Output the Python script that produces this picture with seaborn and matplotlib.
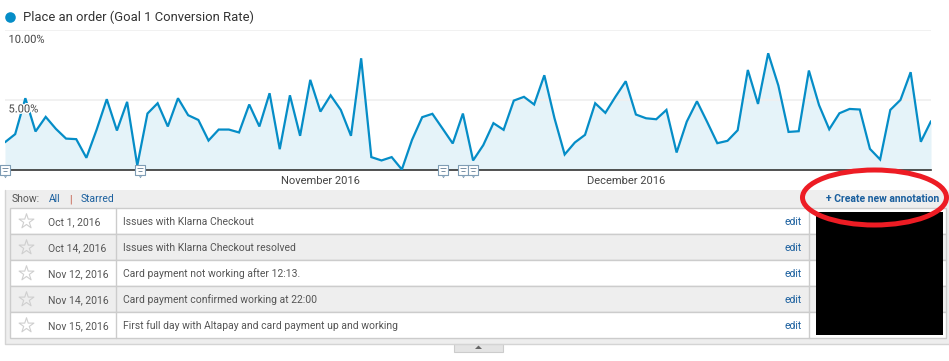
import matplotlib
matplotlib.use("Agg")
import matplotlib.pyplot as plt
import matplotlib.patheffects as pe
import matplotlib.transforms as mtrans
from matplotlib.patches import Rectangle, Ellipse, Polygon
import seaborn as sns
import pandas as pd

conversion_rate = [
    1.96, 2.54, 5.12, 2.73, 3.78, 2.92, 2.22, 2.18, 0.84, 2.85, 5.05, 2.80, 4.86, 0.29, 4.02, 4.76,
    3.09, 5.12, 3.90, 3.56, 2.08, 2.87, 2.87, 2.66, 4.67, 3.09, 5.48, 1.46, 5.33, 2.42, 6.44,
    4.16, 5.33, 4.28, 2.42, 7.99, 0.89, 0.65, 0.89, 0.0, 2.13, 3.76, 4.00, 2.94, 1.87, 4.02, 0.65,
    1.75, 3.33, 2.85, 4.95, 5.22, 4.67, 6.77, 3.68, 1.08, 1.94, 2.49, 4.76, 4.07, 5.24, 6.34,
    3.95, 3.68, 3.61, 4.28, 1.22, 3.44, 4.90, 3.42, 1.89, 2.06, 2.82, 7.15, 4.71, 8.35, 6.03,
    2.70, 2.75, 7.11, 4.62, 2.89, 4.04, 4.35, 4.31, 1.48, 0.72, 4.28, 5.00, 6.99, 1.99, 3.47,
]
dates = pd.date_range("2016-10-01", periods=len(conversion_rate), freq="D")
bubble_dates = pd.to_datetime(["2016-10-01", "2016-10-14 07:00", "2016-11-13", "2016-11-15", "2016-11-16"],
                              format="mixed")
y_ticks = [5, 10]
y_labels = ["5.00%", "10.00%"]
month_ticks = pd.to_datetime(["2016-11-01", "2016-12-01"])
month_labels = ["November 2016", "December 2016"]
note_dates = ["Oct 1, 2016", "Oct 14, 2016", "Nov 12, 2016", "Nov 14, 2016", "Nov 15, 2016"]
note_texts = [
    "Issues with Klarna Checkout",
    "Issues with Klarna Checkout resolved",
    "Card payment not working after 12:13.",
    "Card payment confirmed working at 22:00",
    "First full day with Altapay and card payment up and working",
]
title = "Place an order (Goal 1 Conversion Rate)"

BLUE = "#058dc7"
LINK = "#1a5f9e"
TXT = "#555555"

sns.set_theme(style="white")
plt.rcParams["font.family"] = ["Roboto", "DejaVu Sans"]

W, H = 949, 361
fig = plt.figure(figsize=(W / 100, H / 100), dpi=100, facecolor="white")

# page layer, in pixels
ui = fig.add_axes([0, 0, 1, 1], zorder=0)
ui.set_xlim(0, W)
ui.set_ylim(H, 0)
ui.axis("off")

ui.scatter([10], [17], s=58, color=BLUE, linewidths=0)
ui.text(23, 17.5, title, fontsize=9.4, color="#333333", va="center", ha="left")

ui.add_patch(Rectangle((5.5, 190), 943.5, 153.5, fc="#eeeeee", ec="none"))
ui.plot([5.5, 5.5, 949], [190, 343.5, 343.5], color="#d4d4d4", lw=1)
ui.text(12, 199, "Show:", fontsize=7.5, color=TXT, va="center")
ui.text(49, 199, "All", fontsize=7.5, color=LINK, va="center")
ui.text(70, 199, "|", fontsize=7.5, color="#c0503c", va="center", ha="center")
ui.text(81, 199, "Starred", fontsize=7.5, color=LINK, va="center")
ui.text(939, 199, "+ Create new annotation", fontsize=7.5, color=LINK,
        va="center", ha="right", fontweight="bold")

row_h = 26
top = 208.3
for i, (d, t) in enumerate(zip(note_dates, note_texts)):
    y = top + i * row_h
    ui.add_patch(Rectangle((10.5, y), 936, row_h, fc="white" if i % 2 == 0 else "#eeeeee",
                           ec="#cccccc", lw=1))
    cy = y + row_h / 2
    ui.scatter([26], [cy], marker="*", s=125, facecolor="white" if i % 2 == 0 else "#eeeeee",
               edgecolor="#cfcfcf", linewidths=0.8)
    ui.text(48, cy + 0.7, d, fontsize=7.5, color=TXT, va="center")
    ui.text(123, cy + 0.7, t, fontsize=7.5, color=TXT, va="center")
    ui.text(802, cy + 0.7, "edit", fontsize=7.5, color=LINK, va="center", ha="right")
ui.plot([116.5, 116.5], [top, top + 5 * row_h], color="#cccccc", lw=1)
ui.plot([809.5, 809.5], [top, top + 5 * row_h], color="#cccccc", lw=1)
ui.add_patch(Rectangle((816, 212), 127, 123, fc="black", ec="none", zorder=3))

# collapse handle
ui.add_patch(Rectangle((454, 343.5), 49, 8.5, fc="#e4e4e4", ec="#cccccc", lw=0.8))
ui.add_patch(Polygon([[475, 349], [478.5, 345.5], [482, 349]], closed=True, fc="#666666", ec="none"))

# chart layer
ax = fig.add_axes([5 / W, 1 - 169.5 / H, 926 / W, (169.5 - 30.3) / H], zorder=1)
ax.patch.set_alpha(0)
frame = pd.DataFrame({"date": dates, "rate": conversion_rate})
ax.fill_between(frame["date"], frame["rate"], 0, color="#e5f3f9", lw=0, zorder=1)
ax.grid(axis="y", color="#efefef", lw=1.2, zorder=2)
ax.set_axisbelow(False)
sns.lineplot(data=frame, x="date", y="rate", ax=ax, color=BLUE, lw=1.6, zorder=3,
             errorbar=None, solid_joinstyle="miter")
ax.set_xlim(dates[0], dates[-1])
ax.set_ylim(0, 10)
ax.set_xlabel("")
ax.set_ylabel("")
for s in ["top", "left", "right"]:
    ax.spines[s].set_visible(False)
ax.spines["bottom"].set_color("#333333")
ax.spines["bottom"].set_linewidth(1.2)
ax.set_yticks(y_ticks)
ax.set_yticklabels([])
ax.tick_params(axis="y", length=0)
for v, lab in zip(y_ticks, y_labels):
    ax.annotate(lab, xy=(0, v), xycoords=ax.get_yaxis_transform(), xytext=(3.5, -9.5),
                textcoords="offset pixels", fontsize=8.0, color="#444444", va="center", ha="left",
                zorder=6, path_effects=[pe.withStroke(linewidth=2, foreground="white")])
ax.set_xticks(month_ticks)
ax.set_xticklabels(month_labels, fontsize=8.0, color="#444444")
ax.tick_params(axis="x", length=0, pad=5)

# annotation bubbles
def shifted(dy_px):
    return ax.get_xaxis_transform() + mtrans.ScaledTranslation(0, dy_px / 100, fig.dpi_scale_trans)

bub_y = [0] * len(bubble_dates)
ax.scatter(bubble_dates, bub_y, marker="v", s=10, facecolor="white", edgecolor="#7f9db5",
           linewidths=0.6, clip_on=False, zorder=5, transform=shifted(-5))
ax.scatter(bubble_dates, bub_y, marker="s", s=42, facecolor="white", edgecolor="#7f9db5",
           linewidths=0.8, clip_on=False, zorder=6, transform=shifted(0))
ax.scatter(bubble_dates, bub_y, marker="_", s=14, color="#607d96", linewidths=0.6,
           clip_on=False, zorder=7, transform=shifted(1.2))
ax.scatter(bubble_dates, bub_y, marker="_", s=8, color="#607d96", linewidths=0.6,
           clip_on=False, zorder=7, transform=shifted(-1.2))

# red hand-drawn ellipse, on top of everything
over = fig.add_axes([0, 0, 1, 1], zorder=5)
over.set_xlim(0, W)
over.set_ylim(H, 0)
over.axis("off")
over.patch.set_alpha(0)
over.add_patch(Ellipse((874.5, 197.5), 144, 55, fc="none", ec="#ed1c24", lw=3.6))

fig.savefig("out.png", dpi=100)
